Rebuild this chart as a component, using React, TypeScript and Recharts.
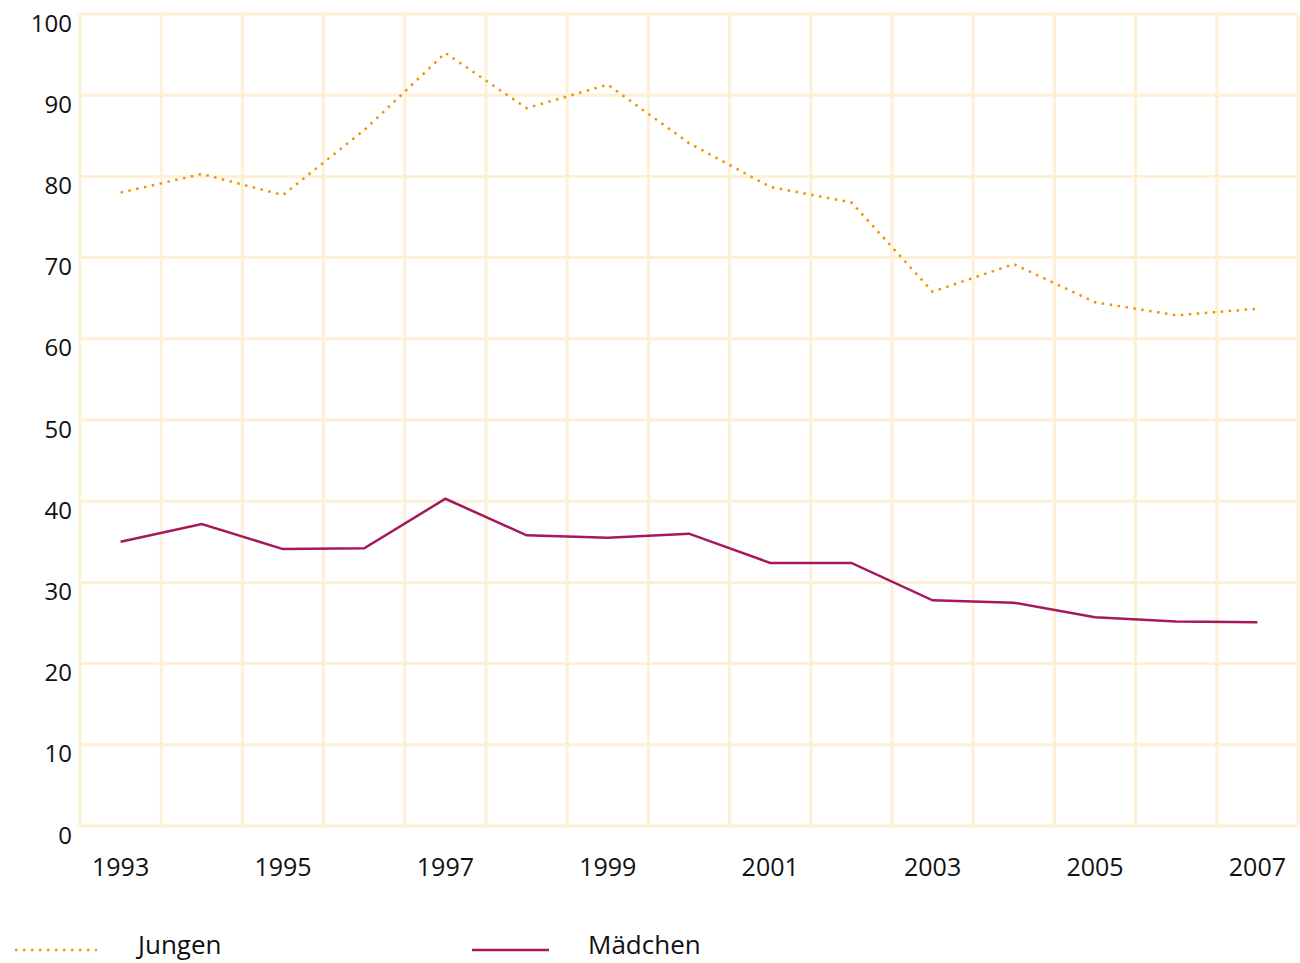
import { CartesianGrid, Line, LineChart, XAxis, YAxis } from "recharts";

const years = [
  1993, 1994, 1995, 1996, 1997, 1998, 1999, 2000, 2001, 2002, 2003, 2004,
  2005, 2006, 2007,
];
const jungen = [
  78.0, 80.3, 77.7, 85.7, 95.2, 88.4, 91.3, 84.1, 78.7, 76.8, 65.8, 69.2,
  64.5, 62.9, 63.7,
];
const maedchen = [
  35.0, 37.2, 34.1, 34.2, 40.3, 35.8, 35.5, 36.0, 32.4, 32.4, 27.8, 27.5,
  25.7, 25.2, 25.1,
];
const yearTicks = [1993, 1995, 1997, 1999, 2001, 2003, 2005, 2007];
const gridTicks = [
  1992.5, 1993.5, 1994.5, 1995.5, 1996.5, 1997.5, 1998.5, 1999.5, 2000.5,
  2001.5, 2002.5, 2003.5, 2004.5, 2005.5, 2006.5, 2007.5,
];
const valueTicks = [0, 10, 20, 30, 40, 50, 60, 70, 80, 90, 100];

const ORANGE = "#f39200";
const BERRY = "#a3195b";
const GRID = "#fdf0d4";
const FONT = "'Open Sans', 'DejaVu Sans', sans-serif";

const data = years.map((year, i) => ({
  year,
  jungen: jungen[i],
  maedchen: maedchen[i],
}));

export default function App() {
  return (
    <div
      style={{
        position: "absolute",
        left: 0,
        top: 0,
        width: 1300,
        height: 963,
        background: "#fff",
        fontFamily: FONT,
        overflow: "hidden",
      }}
    >
      <LineChart
        width={1300}
        height={900}
        data={data}
        margin={{ top: 14, right: 2, left: 0, bottom: 0 }}
      >
        <CartesianGrid
          xAxisId="grid"
          stroke={GRID}
          strokeWidth={3}
          verticalFill={[]}
        />
        <XAxis
          xAxisId="grid"
          dataKey="year"
          type="number"
          domain={[1992.5, 2007.5]}
          ticks={gridTicks}
          hide
        />
        <XAxis
          dataKey="year"
          type="number"
          domain={[1992.5, 2007.5]}
          ticks={yearTicks}
          interval={0}
          axisLine={false}
          tickLine={false}
          height={74}
          tickMargin={26}
          tick={{ fontSize: 25, fill: "#111", fontFamily: FONT }}
        />
        <YAxis
          domain={[0, 100]}
          ticks={valueTicks}
          interval={0}
          axisLine={false}
          tickLine={false}
          width={80}
          tickMargin={2}
          tick={{ fontSize: 24, fill: "#111", fontFamily: FONT, dy: 9 }}
        />
        <Line
          dataKey="jungen"
          stroke={ORANGE}
          strokeWidth={2.5}
          strokeDasharray="2.5 5.5"
          dot={false}
          isAnimationActive={false}
        />
        <Line
          dataKey="maedchen"
          stroke={BERRY}
          strokeWidth={2.5}
          dot={false}
          isAnimationActive={false}
        />
      </LineChart>
      <svg
        width={1300}
        height={63}
        style={{ position: "absolute", left: 0, top: 900 }}
      >
        <line
          x1={15}
          x2={97}
          y1={50}
          y2={50}
          stroke={ORANGE}
          strokeWidth={2.5}
          strokeDasharray="2.5 5.5"
        />
        <text x={138} y={54} fontSize={26} fill="#111" fontFamily={FONT}>
          Jungen
        </text>
        <line
          x1={472}
          x2={549}
          y1={50}
          y2={50}
          stroke={BERRY}
          strokeWidth={2.5}
        />
        <text x={588} y={54} fontSize={26} fill="#111" fontFamily={FONT}>
          Mädchen
        </text>
      </svg>
    </div>
  );
}
